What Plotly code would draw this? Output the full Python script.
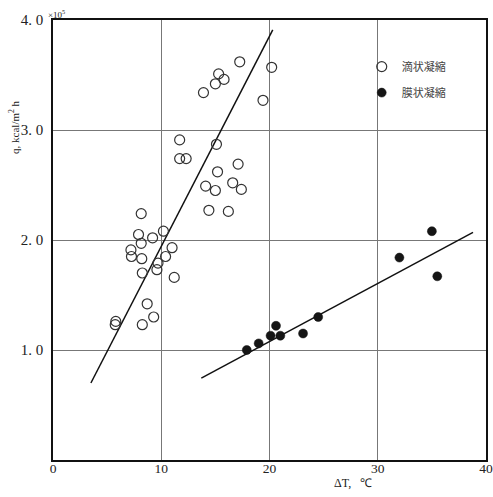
import plotly.graph_objects as go

# Dropwise condensation (滴状凝縮) — open circles
drop_dT = [8.15, 7.9, 9.2, 10.2, 8.15, 7.2, 7.25, 8.2, 11.0, 10.4, 9.7, 9.6, 8.25, 11.2,
           8.7, 9.3, 5.8, 5.75, 8.25,
           17.25, 20.2, 15.3, 15.8, 15.0, 13.9, 19.4, 11.7, 15.1, 12.3, 11.7, 17.1,
           15.2, 14.1, 15.0, 16.6, 17.4, 14.4, 16.2]
drop_q = [2.24, 2.05, 2.02, 2.08, 1.97, 1.91, 1.85, 1.83, 1.93, 1.85, 1.79, 1.73, 1.70, 1.66,
          1.42, 1.30, 1.26, 1.23, 1.23,
          3.62, 3.57, 3.51, 3.46, 3.42, 3.34, 3.27, 2.91, 2.87, 2.74, 2.74, 2.69,
          2.62, 2.49, 2.45, 2.52, 2.46, 2.27, 2.26]

# Filmwise condensation (膜状凝縮) — filled circles
film_dT = [17.9, 19.0, 20.1, 21.0, 20.6, 23.1, 24.5, 32.0, 35.0, 35.5]
film_q = [1.00, 1.06, 1.13, 1.13, 1.22, 1.15, 1.30, 1.84, 2.08, 1.67]

# Fitted lines (end points)
drop_fit_dT = [3.5, 20.3]
drop_fit_q = [0.70, 3.91]
film_fit_dT = [13.7, 38.8]
film_fit_q = [0.745, 2.07]

x_ticks = [0, 10, 20, 30, 40]
x_ticklabels = ["0", "10", "20", "30", "40"]
y_ticks = [1, 2, 3, 4]
y_ticklabels = ["1. 0", "2. 0", "3. 0", "4. 0"]

serif = "Liberation Serif, Times New Roman, serif"
ink = "#222222"

fig = go.Figure()
fig.add_trace(go.Scatter(x=drop_fit_dT, y=drop_fit_q, mode="lines",
                         line=dict(color="#111111", width=1.5), showlegend=False, hoverinfo="skip"))
fig.add_trace(go.Scatter(x=film_fit_dT, y=film_fit_q, mode="lines",
                         line=dict(color="#111111", width=1.5), showlegend=False, hoverinfo="skip"))
fig.add_trace(go.Scatter(x=drop_dT, y=drop_q, mode="markers", name="滴状凝縮", legendgroup="a",
                         marker=dict(symbol="circle-open", size=10, color="#333333",
                                     line=dict(width=1.2, color="#333333"))))
fig.add_trace(go.Scatter(x=film_dT, y=film_q, mode="markers", name="膜状凝縮", legendgroup="b",
                         marker=dict(symbol="circle", size=9, color="#151515",
                                     line=dict(width=0.5, color="#151515"))))

fig.update_layout(
    width=493, height=497,
    margin=dict(l=53, r=7, t=20, b=37),
    paper_bgcolor="white", plot_bgcolor="white",
    font=dict(family=serif, size=13, color=ink),
    legend=dict(x=0.713, y=0.927, xanchor="left", yanchor="top",
                bgcolor="rgba(0,0,0,0)", tracegroupgap=7,
                font=dict(family="Noto Sans CJK JP", size=11, color="#444444")),
    xaxis=dict(range=[0, 40], tickvals=x_ticks, ticktext=x_ticklabels, automargin=False,
               showgrid=True, gridcolor="#777777", gridwidth=1,
               showline=True, linecolor="#111111", linewidth=1.5, mirror=True,
               ticks="", zeroline=False, ticklabelstandoff=-5, ticklabeloverflow="allow",
               tickfont=dict(family=serif, size=13.5, color=ink)),
    yaxis=dict(range=[0, 4], tickvals=y_ticks, ticktext=y_ticklabels, automargin=False,
               showgrid=True, gridcolor="#777777", gridwidth=1,
               showline=True, linecolor="#111111", linewidth=1.5, mirror=True,
               ticks="", zeroline=False, ticklabelstandoff=5, ticklabeloverflow="allow",
               tickfont=dict(family=serif, size=15, color=ink)),
    annotations=[
        dict(text="×10<sup>5</sup>", x=0.0, y=1.0, xref="paper", yref="paper",
             xanchor="center", yanchor="middle", xshift=3, yshift=6, showarrow=False,
             font=dict(family=serif, size=9, color=ink)),
        dict(text="q, kcal/m<sup>2</sup> h", x=0, y=0.757, xref="paper", yref="paper",
             xanchor="center", yanchor="middle", xshift=-39, textangle=-90, showarrow=False,
             font=dict(family=serif, size=11, color=ink)),
        dict(text="ΔT,   ℃", x=0.693, y=0, xref="paper", yref="paper",
             xanchor="center", yanchor="middle", yshift=-23, showarrow=False,
             font=dict(family=serif, size=12, color=ink)),
    ],
)

# Remove the default page margin so the 493x497 figure fills the window exactly.
fig.write_html("out.html", config={"displayModeBar": False},
               post_script="document.body.style.margin='0';")
